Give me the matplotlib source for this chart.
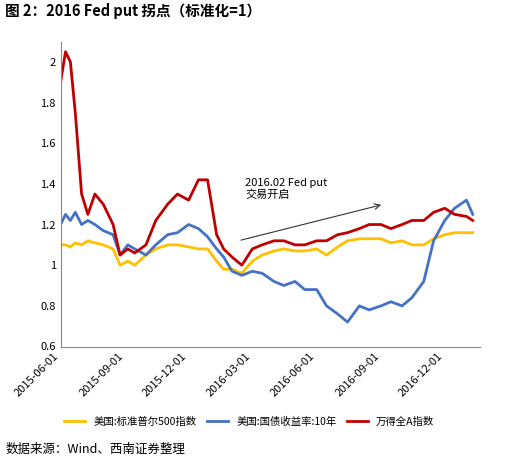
import matplotlib
matplotlib.use("Agg")
import matplotlib.pyplot as plt
import matplotlib.dates as mdates
import pandas as pd

plt.rcParams['font.family'] = ['Noto Sans CJK SC', 'DejaVu Sans']

dates = pd.to_datetime([
 "2015-06-01","2015-06-08","2015-06-15","2015-06-22","2015-07-01","2015-07-10","2015-07-20","2015-08-01","2015-08-15","2015-08-25",
 "2015-09-05","2015-09-15","2015-10-01","2015-10-15","2015-11-01","2015-11-15","2015-12-01","2015-12-15","2015-12-28","2016-01-10",
 "2016-01-20","2016-02-01","2016-02-15","2016-03-01","2016-03-15","2016-04-01","2016-04-15","2016-05-01","2016-05-15","2016-06-01",
 "2016-06-15","2016-07-01","2016-07-15","2016-08-01","2016-08-15","2016-09-01","2016-09-15","2016-10-01","2016-10-15","2016-11-01",
 "2016-11-15","2016-12-01","2016-12-15","2017-01-01","2017-01-10"])
spx = [1.10,1.10,1.09,1.11,1.10,1.12,1.11,1.10,1.08,1.00,
       1.02,1.00,1.05,1.08,1.10,1.10,1.09,1.08,1.08,1.02,
       0.98,0.98,0.96,1.02,1.05,1.07,1.08,1.07,1.07,1.08,
       1.05,1.09,1.12,1.13,1.13,1.13,1.11,1.12,1.10,1.10,
       1.13,1.15,1.16,1.16,1.16]
ust = [1.20,1.25,1.22,1.26,1.20,1.22,1.20,1.17,1.15,1.05,
       1.10,1.08,1.05,1.10,1.15,1.16,1.20,1.18,1.14,1.08,
       1.04,0.97,0.95,0.97,0.96,0.92,0.90,0.92,0.88,0.88,
       0.80,0.76,0.72,0.80,0.78,0.80,0.82,0.80,0.84,0.92,
       1.12,1.22,1.28,1.32,1.25]
wind = [1.90,2.05,2.00,1.75,1.35,1.25,1.35,1.30,1.20,1.05,
        1.08,1.06,1.10,1.22,1.30,1.35,1.32,1.42,1.42,1.15,
        1.08,1.04,1.00,1.08,1.10,1.12,1.12,1.10,1.10,1.12,
        1.12,1.15,1.16,1.18,1.20,1.20,1.18,1.20,1.22,1.22,
        1.26,1.28,1.25,1.24,1.22]

fig = plt.figure(figsize=(5.05,4.62), dpi=100)
ax = fig.add_axes([0.12,0.25,0.83,0.66])
ax.plot(dates, spx, color='#FFC000', lw=2, label='美国:标准普尔500指数')
ax.plot(dates, ust, color='#4472C4', lw=2, label='美国:国债收益率:10年')
ax.plot(dates, wind, color='#C00000', lw=2, label='万得全A指数')
ax.set_ylim(0.6,2.1)
ax.set_yticks([0.6,0.8,1,1.2,1.4,1.6,1.8,2])
ax.set_yticklabels(['0.6','0.8','1','1.2','1.4','1.6','1.8','2'])
ax.set_xlim(pd.Timestamp("2015-06-01"), pd.Timestamp("2017-01-20"))
ticks = pd.to_datetime(["2015-06-01","2015-09-01","2015-12-01","2016-03-01","2016-06-01","2016-09-01","2016-12-01"])
ax.set_xticks(ticks)
ax.xaxis.set_major_formatter(mdates.DateFormatter('%Y-%m-%d'))
plt.setp(ax.get_xticklabels(), rotation=45, ha='right', fontsize=8)
ax.tick_params(labelsize=8, length=0)
for s in ['top','right']:
    ax.spines[s].set_visible(False)
ax.spines['left'].set_color('#888888')
ax.spines['bottom'].set_color('#888888')
ax.annotate('', xy=(pd.Timestamp("2016-09-05"),1.3), xytext=(pd.Timestamp("2016-02-10"),1.12),
            arrowprops=dict(arrowstyle='->', color='#333333', lw=0.8))
ax.text(pd.Timestamp("2016-02-20"),1.33,'2016.02 Fed put\n交易开启', fontsize=8)
ax.legend(loc='upper center', bbox_to_anchor=(0.45,-0.2), ncol=3, frameon=False, fontsize=7.5,
          handlelength=2, columnspacing=1)
fig.text(0.01,0.965,'图 2：2016 Fed put 拐点（标准化=1）', fontsize=10.5, fontweight='bold')
fig.text(0.01,0.02,'数据来源：Wind、西南证券整理', fontsize=9, style='italic')
fig.savefig('out.png', dpi=100)
